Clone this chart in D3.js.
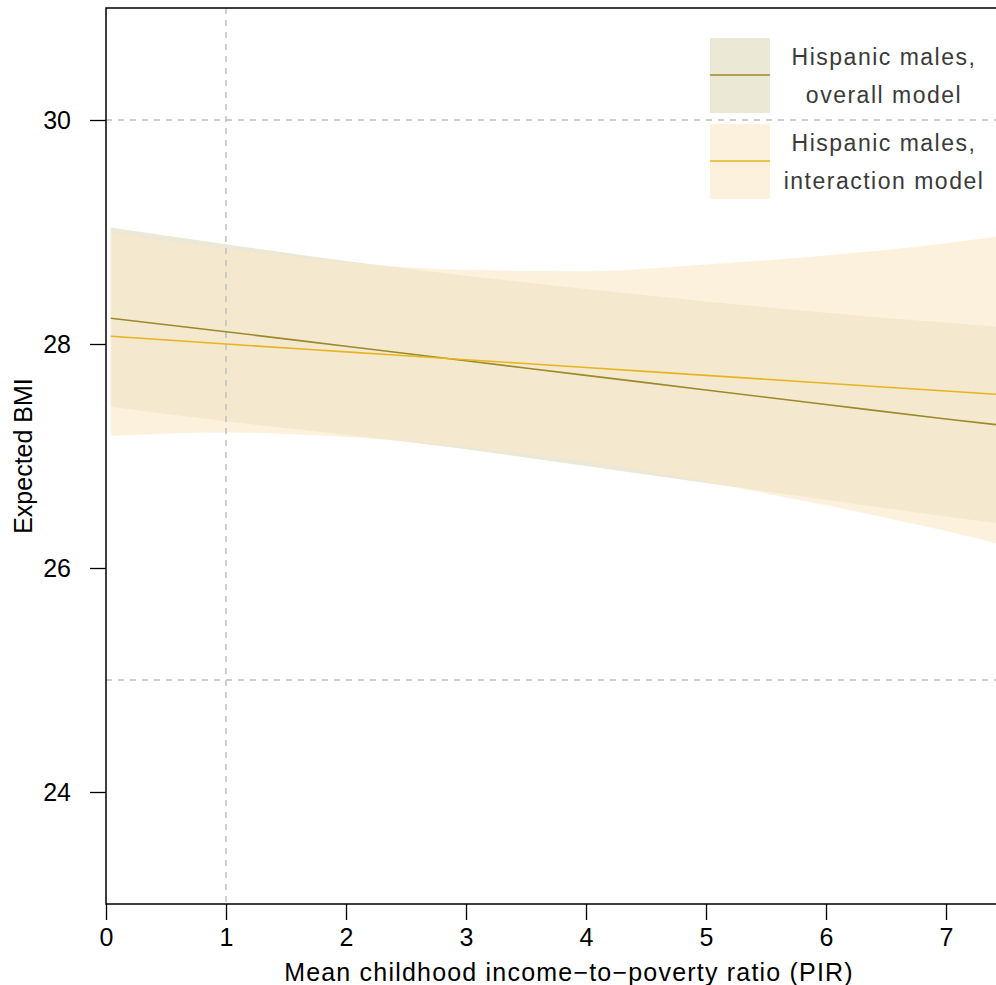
<!DOCTYPE html>
<html>
<head>
<meta charset="utf-8">
<script src="https://cdn.jsdelivr.net/npm/d3@7"></script>
<style>
  html, body { margin: 0; padding: 0; background: #fff; }
  svg { display: block; }
  svg text { font-family: Arial, "Liberation Sans", Helvetica, sans-serif; }
</style>
</head>
<body>
<svg id="chart" width="996" height="985"></svg>
<script>
// ---- Data ----
const pir = [0.04, 1, 2, 3, 4, 5, 6, 7, 7.5];

const overallFit   = [28.23, 28.11, 27.98, 27.85, 27.72, 27.59, 27.46, 27.33, 27.27];
const overallUpper = [29.04, 28.89, 28.74, 28.61, 28.49, 28.38, 28.28, 28.19, 28.15];
const overallLower = [27.44, 27.31, 27.19, 27.06, 26.91, 26.76, 26.61, 26.46, 26.39];

const interFit   = [28.07, 28.00, 27.93, 27.86, 27.79, 27.72, 27.65, 27.58, 27.545];
const interUpper = [28.99, 28.85, 28.73, 28.66, 28.65, 28.71, 28.79, 28.90, 28.97];
const interLower = [27.18, 27.21, 27.17, 27.08, 26.95, 26.77, 26.56, 26.33, 26.20];

const xTicks = [0, 1, 2, 3, 4, 5, 6, 7];
const yTicks = [24, 26, 28, 30];
const hRefLines = [30, 25];
const vRefLines = [1];

const legendLabels = [["Hispanic males,", "overall model"], ["Hispanic males,", "interaction model"]];
const xTitle = "Mean childhood income\u2212to\u2212poverty ratio (PIR)";
const yTitle = "Expected BMI";

// ---- Styles ----
const colOverallLine = "#9a8a2a";
const colOverallBand = "#ebe8d6";
const colInterLine = "#e8b420";
const colInterBand = "rgb(249,234,201)";
const interBandOpacity = 0.65;

// ---- Layout ----
const svg = d3.select("#chart");
const pL = 106, pR = 1030, pT = 8, pB = 904;

const x = d3.scaleLinear().domain([0, 7.7]).range([pL, pR]);
const y = d3.scaleLinear().domain([23, 31]).range([pB, pT]);

const defs = svg.append("defs");
defs.append("clipPath").attr("id", "plotclip")
  .append("rect").attr("x", pL).attr("y", pT).attr("width", pR - pL).attr("height", pB - pT);

const plot = svg.append("g").attr("clip-path", "url(#plotclip)");

const band = (up, lo) => d3.area()
  .x((d, i) => x(pir[i]))
  .y0((d, i) => y(lo[i]))
  .y1((d, i) => y(up[i]))
  .curve(d3.curveMonotoneX);

const line = vals => d3.line()
  .x((d, i) => x(pir[i]))
  .y((d, i) => y(vals[i]))
  .curve(d3.curveMonotoneX);

// bands
plot.append("path").datum(pir).attr("d", band(overallUpper, overallLower))
  .attr("fill", colOverallBand);
plot.append("path").datum(pir).attr("d", band(interUpper, interLower))
  .attr("fill", colInterBand).attr("fill-opacity", interBandOpacity);

// reference lines
plot.selectAll(".hr").data(hRefLines).enter().append("line")
  .attr("x1", pL).attr("x2", pR)
  .attr("y1", d => y(d)).attr("y2", d => y(d))
  .attr("stroke", "#bdbdbd").attr("stroke-width", 1.4).attr("stroke-dasharray", "6,6");
plot.selectAll(".vr").data(vRefLines).enter().append("line")
  .attr("x1", d => x(d)).attr("x2", d => x(d))
  .attr("y1", pT).attr("y2", pB)
  .attr("stroke", "#bdbdbd").attr("stroke-width", 1.4).attr("stroke-dasharray", "6,6");

// fit lines
plot.append("path").datum(pir).attr("d", line(overallFit))
  .attr("fill", "none").attr("stroke", colOverallLine).attr("stroke-width", 1.6);
plot.append("path").datum(pir).attr("d", line(interFit))
  .attr("fill", "none").attr("stroke", colInterLine).attr("stroke-width", 1.6);

// frame (left, top, bottom)
svg.append("path")
  .attr("d", `M${pR},${pT}H${pL}V${pB}H${pR}`)
  .attr("fill", "none").attr("stroke", "#000").attr("stroke-width", 1.5);

// axes
const xAxis = d3.axisBottom(x).tickValues(xTicks).tickSize(16).tickPadding(8).tickFormat(d3.format("d"));
const gx = svg.append("g").attr("transform", `translate(0,${pB})`).call(xAxis);
gx.attr("font-family", null).attr("font-size", null);
gx.select(".domain").remove();
gx.selectAll(".tick line").attr("stroke", "#000").attr("stroke-width", 1.3);
gx.selectAll(".tick text").attr("font-size", 25).attr("fill", "#000");

const yAxis = d3.axisLeft(y).tickValues(yTicks).tickSize(16).tickPadding(19).tickFormat(d3.format("d"));
const gy = svg.append("g").attr("transform", `translate(${pL},0)`).call(yAxis);
gy.attr("font-family", null).attr("font-size", null);
gy.select(".domain").remove();
gy.selectAll(".tick line").attr("stroke", "#000").attr("stroke-width", 1.3);
gy.selectAll(".tick text").attr("font-size", 25).attr("fill", "#000");

// axis titles
svg.append("text").attr("x", (pL + pR) / 2 + 1).attr("y", 981)
  .attr("text-anchor", "middle").attr("font-size", 25).attr("letter-spacing", 1.2)
  .attr("fill", "#000").text(xTitle);
svg.append("text").attr("transform", `translate(32,${(pT + pB) / 2}) rotate(-90)`)
  .attr("text-anchor", "middle").attr("font-size", 25).attr("fill", "#000").text(yTitle);

// legend
const legend = svg.append("g");
const legItems = [
  {band: colOverallBand, op: 1, line: colOverallLine, y0: 38},
  {band: colInterBand, op: interBandOpacity, line: colInterLine, y0: 124}
];
legItems.forEach((it, i) => {
  legend.append("rect").attr("x", 710).attr("y", it.y0).attr("width", 60).attr("height", 75)
    .attr("fill", it.band).attr("fill-opacity", it.op);
  legend.append("line").attr("x1", 710).attr("x2", 770)
    .attr("y1", it.y0 + 37).attr("y2", it.y0 + 37)
    .attr("stroke", it.line).attr("stroke-width", 1.6);
  legendLabels[i].forEach((t, j) => {
    legend.append("text").attr("x", 884).attr("y", it.y0 + 27 + j * 37.5)
      .attr("text-anchor", "middle").attr("font-size", 23).attr("letter-spacing", 1.5)
      .attr("fill", "#3a3a3a").text(t);
  });
});
</script>
</body>
</html>
